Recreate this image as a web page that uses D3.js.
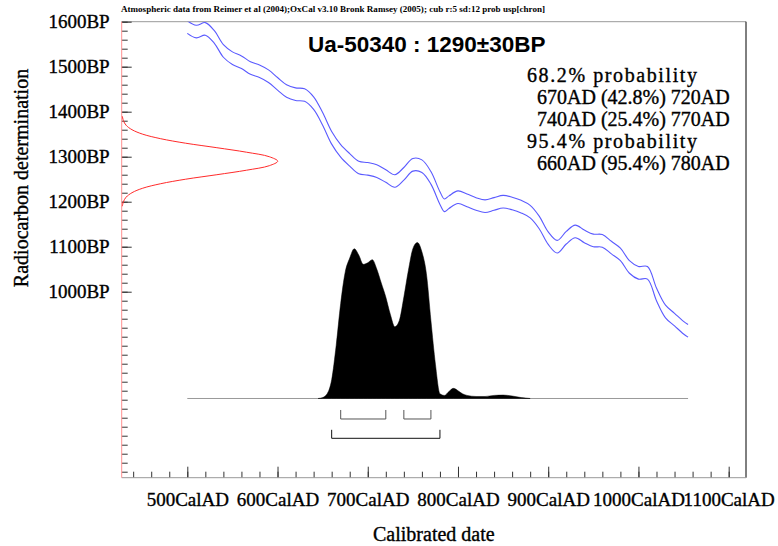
<!DOCTYPE html>
<html>
<head>
<meta charset="utf-8">
<script src="https://cdn.jsdelivr.net/npm/d3@7"></script>
<style>
  body { margin: 0; background: #fff; }
  svg { display: block; }
  text { font-family: "Liberation Serif", "Times New Roman", serif; fill: #000; }
  .heavy { stroke: #000; stroke-width: 0.35px; }
</style>
</head>
<body>
<div id="chart"></div>
<script>
// calibration curve (IntCal04), mid values
const curveYears = [500, 510, 520, 530, 540, 550, 560, 570, 580, 590,
  600, 610, 620, 630, 640, 650, 660, 670, 680, 690,
  700, 710, 720, 730, 740, 750, 760, 770, 780, 785,
  790, 800, 810, 820, 830, 840, 850, 860, 870, 880,
  890, 900, 910, 920, 930, 940, 950, 960, 970, 980,
  990, 1000, 1010, 1020, 1030, 1040, 1050, 1055];
const curveBP = [1588, 1578, 1584, 1566, 1535, 1519, 1510, 1497, 1490, 1479,
  1462, 1446, 1439, 1437, 1419, 1384, 1342, 1313, 1293, 1276,
  1273, 1268, 1257, 1246, 1262, 1282, 1279, 1253, 1208, 1192,
  1199, 1210, 1203, 1195, 1190, 1195, 1200, 1196, 1189, 1178,
  1154, 1119, 1100, 1120, 1134, 1123, 1114, 1113, 1098, 1083,
  1055, 1042, 1042, 994, 956, 938, 920, 913];
const curveSigma = 14;

// radiocarbon measurement (red curve on the y axis)
const rcBP = [1390, 1380, 1370, 1360, 1350, 1340, 1330, 1320, 1310, 1300, 1290,
  1280, 1270, 1260, 1250, 1240, 1230, 1220, 1210, 1200, 1190];
const rcDensity = [0.004, 0.011, 0.028, 0.066, 0.135, 0.25, 0.41, 0.61, 0.80, 0.946, 1,
  0.946, 0.80, 0.61, 0.41, 0.25, 0.135, 0.066, 0.028, 0.011, 0.004];

// calibrated distribution
const calYears = [645, 650, 655, 660, 665, 670, 675, 680, 685, 690,
  695, 700, 705, 710, 715, 720, 725, 730, 735, 740,
  745, 750, 755, 760, 765, 770, 775, 780, 785, 790,
  795, 800, 805, 810, 820, 830, 840, 850, 860, 870, 880];
const calProb = [0, 0.006, 0.03, 0.12, 0.34, 0.61, 0.81, 0.90, 0.96, 0.92,
  0.86, 0.87, 0.89, 0.83, 0.74, 0.65, 0.54, 0.46, 0.50, 0.65,
  0.82, 0.96, 1.0, 0.94, 0.80, 0.50, 0.22, 0.03, 0.02, 0.045,
  0.065, 0.05, 0.03, 0.02, 0.013, 0.013, 0.02, 0.022, 0.016, 0.006, 0];

const ranges68 = [[670, 720], [740, 770]];
const ranges95 = [[660, 780]];
const probLines = ['68.2% probability', '  670AD (42.8%) 720AD', '  740AD (25.4%) 770AD',
  '95.4% probability', '  660AD (95.4%) 780AD'];

const xMajor = [500, 600, 700, 800, 900, 1000, 1100];
const xMinor = d3.range(440, 1101, 20);
const yMajor = [1000, 1100, 1200, 1300, 1400, 1500, 1600];
const yMinor = d3.range(600, 1601, 20);

const titleText = 'Ua-50340 : 1290\u00b130BP';
const sourceText = 'Atmospheric data from Reimer et al (2004);OxCal v3.10 Bronk Ramsey (2005); cub r:5 sd:12 prob usp[chron]';

const margin = { top: 21.7, right: 32, bottom: 68.3, left: 121.7 };
const width = 778 - margin.left - margin.right;
const height = 546 - margin.top - margin.bottom;

const svg = d3.select('#chart').append('svg')
  .attr('width', 778)
  .attr('height', 546);

const g = svg.append('g')
  .attr('transform', `translate(${margin.left},${margin.top})`);

const x = d3.scaleLinear().domain([427.3, 1119.2]).range([0, width]);
const y = d3.scaleLinear().domain([586.7, 1600]).range([height, 0]);
const rcScale = d3.scaleLinear().domain([0, 1]).range([0, 156]);
const pScale = d3.scaleLinear().domain([0, 1]).range([376.8, 220.8]);

g.append('clipPath').attr('id', 'clip')
  .append('rect').attr('width', width).attr('height', height);

// frame
g.append('line').attr('x1', 0).attr('x2', width).attr('y1', 0).attr('y2', 0)
  .attr('stroke', '#999');
g.append('line').attr('x1', width).attr('x2', width).attr('y1', 0).attr('y2', height)
  .attr('stroke', '#000');

// x axis
const xAxisMinor = d3.axisBottom(x).tickValues(xMinor).tickSize(-6).tickFormat('');
const xAxisMajor = d3.axisBottom(x).tickValues(xMajor).tickSize(-11).tickPadding(15)
  .tickFormat(d => d + 'CalAD');

g.append('g').attr('transform', `translate(0,${height})`).call(xAxisMinor);
g.append('g').attr('class', 'xAxis').attr('transform', `translate(0,${height})`).call(xAxisMajor);

// y axis
const yAxisMinor = d3.axisLeft(y).tickValues(yMinor).tickSize(-6).tickFormat('');
const yAxisMajor = d3.axisLeft(y).tickValues(yMajor).tickSize(-10).tickPadding(12)
  .tickFormat(d => d + 'BP');

g.append('g').call(yAxisMinor);
g.append('g').attr('class', 'yAxis').call(yAxisMajor);

g.selectAll('.domain').remove();
g.selectAll('.tick line').attr('stroke', '#333');
g.selectAll('.tick text')
  .attr('class', 'heavy')
  .style('font-family', '"Liberation Serif", serif')
  .style('font-size', '19px');

g.append('line').attr('x1', 0).attr('x2', width).attr('y1', height).attr('y2', height)
  .attr('stroke', '#999');
g.append('line').attr('x1', 0).attr('x2', 0).attr('y1', 0).attr('y2', height)
  .attr('stroke', '#ff9090');

// calibration curve band
const plot = g.append('g').attr('clip-path', 'url(#clip)');
const curveData = curveYears.map((d, i) => ({ year: d, bp: curveBP[i] }));

[curveSigma, -curveSigma].forEach(s => {
  plot.append('path')
    .datum(curveData)
    .attr('fill', 'none')
    .attr('stroke', '#5a5aff')
    .attr('stroke-width', 1.1)
    .attr('d', d3.line()
      .x(d => x(d.year))
      .y(d => y(d.bp + s))
      .curve(d3.curveCatmullRom));
});

// radiocarbon date distribution
const rcData = rcBP.map((d, i) => ({ bp: d, p: rcDensity[i] }));
g.append('path')
  .datum(rcData)
  .attr('fill', 'none')
  .attr('stroke', '#ff2a2a')
  .attr('stroke-width', 1)
  .attr('d', d3.line()
    .x(d => rcScale(d.p))
    .y(d => y(d.bp))
    .curve(d3.curveCatmullRom));

// calibrated distribution
g.append('line')
  .attr('x1', x(500)).attr('x2', x(1055))
  .attr('y1', pScale(0)).attr('y2', pScale(0))
  .attr('stroke', '#999');

const calData = calYears.map((d, i) => ({ year: d, p: calProb[i] }));
g.append('path')
  .datum(calData)
  .attr('fill', '#000')
  .attr('stroke', '#000')
  .attr('stroke-width', 0.5)
  .attr('d', d3.area()
    .x(d => x(d.year))
    .y0(pScale(0))
    .y1(d => pScale(d.p))
    .curve(d3.curveMonotoneX));

// range brackets
function drawBracket(r, yPos, tick, colour) {
  g.append('path')
    .attr('fill', 'none')
    .attr('stroke', colour)
    .attr('d', `M${x(r[0])},${yPos - tick}V${yPos}H${x(r[1])}V${yPos - tick}`);
}
ranges68.forEach(r => drawBracket(r, 397.3, 9, '#555'));
ranges95.forEach(r => drawBracket(r, 416.6, 8.5, '#111'));

// texts
svg.append('text')
  .attr('x', 121)
  .attr('y', 12)
  .attr('textLength', 424)
  .attr('lengthAdjust', 'spacingAndGlyphs')
  .style('font-size', '8px')
  .style('font-weight', 'bold')
  .text(sourceText);

svg.append('text')
  .attr('x', 308)
  .attr('y', 52)
  .style('font-family', '"Liberation Sans", Arial, sans-serif')
  .style('font-weight', 'bold')
  .style('font-size', '22.5px')
  .text(titleText);

const probText = svg.append('g').selectAll('text')
  .data(probLines)
  .join('text')
  .attr('class', 'heavy')
  .attr('x', 527)
  .attr('y', (d, i) => 81.5 + i * 22)
  .attr('xml:space', 'preserve')
  .style('white-space', 'pre')
  .style('font-size', '20px')
  .text(d => d);

// the header lines are set wider in the original
probText.filter(d => d.includes('probability'))
  .attr('textLength', 170)
  .attr('lengthAdjust', 'spacing');

svg.append('text')
  .attr('class', 'heavy')
  .attr('x', margin.left + width / 2)
  .attr('y', 541)
  .attr('text-anchor', 'middle')
  .style('font-size', '20px')
  .text('Calibrated date');

svg.append('text')
  .attr('class', 'heavy')
  .attr('transform', 'translate(28,178) rotate(-90)')
  .attr('text-anchor', 'middle')
  .style('font-size', '20px')
  .text('Radiocarbon determination');
</script>
</body>
</html>
